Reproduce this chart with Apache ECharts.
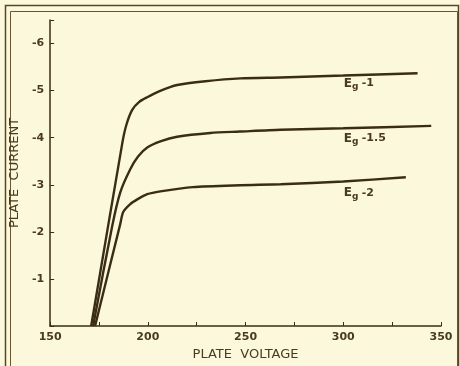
<!DOCTYPE html>
<html>
<head>
<meta charset="utf-8">
<script src="https://cdn.jsdelivr.net/npm/echarts@6/dist/echarts.min.js"></script>
<style>
  html, body { margin: 0; padding: 0; background: #fbf8dc; }
  #chart { width: 460px; height: 366px; }
</style>
</head>
<body>
<div id="chart"></div>
<script>
// plate voltage vs plate current
const voltsEg1 = [171, 187, 189, 192, 195.6, 199.7, 206, 215, 229.5, 247.4, 268, 300, 338];
const currentEg1 = [0, 3.9, 4.27, 4.59, 4.76, 4.86, 4.99, 5.12, 5.2, 5.26, 5.28, 5.32, 5.37];

const voltsEg15 = [172, 181.8, 185.9, 191, 195, 199.7, 206.4, 215, 232, 247, 268, 300, 345];
const currentEg15 = [0, 2.13, 2.84, 3.33, 3.6, 3.79, 3.92, 4.02, 4.1, 4.13, 4.17, 4.2, 4.25];

const voltsEg2 = [173, 185.9, 187.4, 191, 194.6, 199.7, 206.4, 223, 247.4, 268, 300, 332];
const currentEg2 = [0, 2.17, 2.42, 2.59, 2.69, 2.8, 2.86, 2.95, 2.99, 3.01, 3.07, 3.16];

const curveLabels = ['-1', '-1.5', '-2'];
const labelAt = [[300, 5.15], [300, 3.98], [300, 2.82]];

const ink = '#3b2c16';
const textInk = '#4a3a1e';
const font = 'DejaVu Sans';

function pairs(xs, ys) {
  return xs.map((x, i) => [x, ys[i]]);
}

const chart = echarts.init(document.getElementById('chart'));

function curve(xs, ys, idx) {
  return {
    type: 'line',
    data: pairs(xs, ys),
    smooth: 0.25,
    showSymbol: false,
    lineStyle: { color: ink, width: 2.4 },
    markPoint: {
      symbol: 'circle',
      symbolSize: 1,
      itemStyle: { color: 'rgba(0,0,0,0)' },
      data: [{
        coord: labelAt[idx],
        label: {
          show: true,
          position: 'right',
          distance: 0,
          formatter: '{e|E}{g|g} {v|' + curveLabels[idx] + '}',
          rich: {
            e: { color: textInk, fontSize: 12, fontFamily: font, fontWeight: 'bold' },
            g: { color: textInk, fontSize: 9, fontFamily: font, fontWeight: 'bold', padding: [6, 0, 0, 0] },
            v: { color: textInk, fontSize: 11, fontFamily: font, fontWeight: 'bold' }
          }
        }
      }]
    }
  };
}

const option = {
  backgroundColor: '#fbf8dc',
  animation: false,
  graphic: [
    { type: 'rect', left: 3, top: 3, shape: { width: 453, height: 370 }, style: { fill: 'none', stroke: '#5a4526', lineWidth: 1.5 } },
    { type: 'rect', left: 8, top: 9, shape: { width: 447, height: 370 }, style: { fill: 'none', stroke: '#6a5530', lineWidth: 1 } }
  ],
  grid: { left: 50, right: 19, top: 20, bottom: 38 },
  xAxis: {
    type: 'value',
    min: 150,
    max: 350,
    interval: 25,
    name: 'PLATE  VOLTAGE',
    nameLocation: 'middle',
    nameGap: 22,
    nameTextStyle: { color: textInk, fontSize: 13, fontFamily: font },
    axisLine: { lineStyle: { color: ink, width: 1.5 } },
    axisTick: { inside: true, length: 4, lineStyle: { color: ink } },
    splitLine: { show: false },
    axisLabel: {
      color: textInk,
      fontSize: 11,
      fontFamily: font,
      fontWeight: 'bold',
      margin: 6,
      formatter: v => (v % 50 === 0 ? String(v) : '')
    }
  },
  yAxis: {
    type: 'value',
    min: 0,
    max: 6.5,
    interval: 1,
    name: 'PLATE  CURRENT',
    nameLocation: 'middle',
    nameRotate: 90,
    nameGap: 21,
    nameTextStyle: { color: textInk, fontSize: 13, fontFamily: font },
    axisLine: { show: true, lineStyle: { color: ink, width: 1.5 } },
    axisTick: { show: true, inside: true, length: 4, lineStyle: { color: ink } },
    splitLine: { show: false },
    axisLabel: {
      color: textInk,
      fontSize: 11,
      fontFamily: font,
      fontWeight: 'bold',
      margin: 6,
      formatter: v => (v > 0 && Number.isInteger(v) ? '-' + v : '')
    }
  },
  series: [
    curve(voltsEg1, currentEg1, 0),
    curve(voltsEg15, currentEg15, 1),
    curve(voltsEg2, currentEg2, 2)
  ]
};

chart.setOption(option);
</script>
</body>
</html>
